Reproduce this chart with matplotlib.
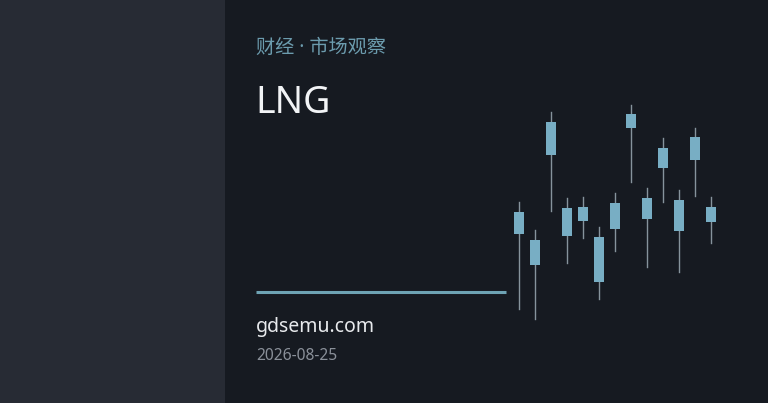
import matplotlib.pyplot as plt
from matplotlib.patches import Rectangle

plt.rcParams['font.family'] = ['Noto Sans CJK SC', 'DejaVu Sans']

# candle data (price units), all candles drawn in one colour
highs = [201, 173, 291, 205, 206, 176, 210, 298, 215, 265, 213, 275, 206]
lows = [94, 84, 192, 140, 165, 104, 152, 221, 136, 201, 131, 207, 160]
opens = [169, 163, 248, 167, 182, 166, 174, 275, 184, 235, 172, 243, 181]
closes = [191, 138, 281, 195, 196, 121, 200, 289, 205, 255, 203, 266, 196]

kicker = "财经 · 市场观察"
title = "LNG"
site = "gdsemu.com"
date = "2026-08-25"

W, H = 768, 403
fig = plt.figure(figsize=(W / 100, H / 100), dpi=100)
fig.patch.set_facecolor("#161a21")

latin = ["Noto Sans", "Noto Sans CJK SC", "DejaVu Sans"]

# layout axes in pixel coordinates
ax = fig.add_axes([0, 0, 1, 1])
ax.set_xlim(0, W)
ax.set_ylim(H, 0)
ax.axis("off")
ax.add_patch(Rectangle((0, 0), 225, H, color="#272b34", lw=0))

ax.text(256, 48, kicker, color="#6c9cae", fontsize=13.8, va="center", ha="left",
        family=latin)
ax.text(255, 103, title, color="#f2f4f6", fontsize=27, va="center", ha="left",
        family=latin)
ax.plot([256, 506], [292, 292], color="#6ea3b4", lw=2.2, solid_capstyle="butt")
ax.text(256, 327, site, color="#e8eaed", fontsize=14, va="center", ha="left",
        family=latin)
ax.text(256, 356, date, color="#8a9099", fontsize=11.2, va="center", ha="left",
        family=latin)

# candle axes: index -> pixel x = 518.7 + 16 * i, price = 403 - pixel y
cax = fig.add_axes([0, 0, 1, 1])
cax.patch.set_alpha(0)
cax.set_xlim(-518.7 / 16, (W - 518.7) / 16)
cax.set_ylim(0, H)
cax.axis("off")
body_w = 10 / 16
for i, (o, h, l, c) in enumerate(zip(opens, highs, lows, closes)):
    cax.plot([i, i], [l, h], color="#86939c", lw=1, zorder=1)
    lo, hi = min(o, c), max(o, c)
    cax.add_patch(Rectangle((i - body_w / 2, lo), body_w, hi - lo,
                            facecolor="#78aec4", edgecolor="none", zorder=2))

fig.savefig("out.png", dpi=100, facecolor=fig.get_facecolor())
